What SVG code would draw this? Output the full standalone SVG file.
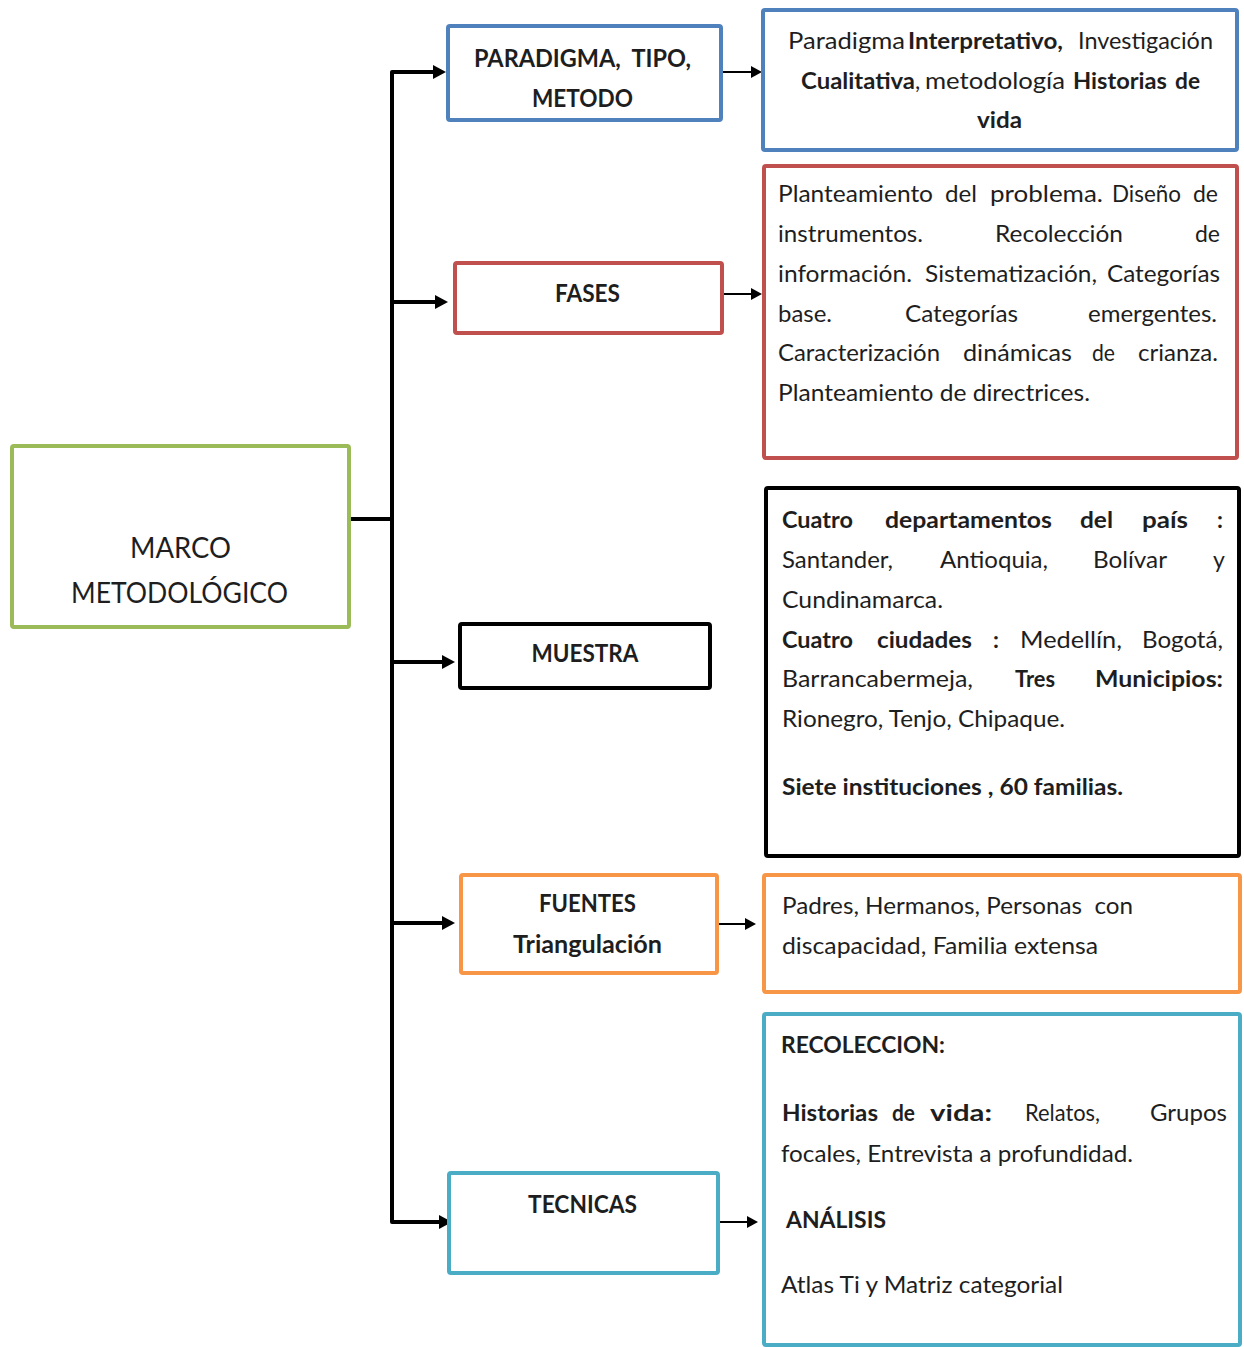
<svg xmlns="http://www.w3.org/2000/svg" width="1244" height="1347" viewBox="0 0 1244 1347">
  <style>
    .box { fill: #ffffff; stroke-width: 4; }
    .green { stroke: #9BBB59; }
    .blue { stroke: #4F81BD; }
    .red { stroke: #C0504D; }
    .black { stroke: #000000; }
    .orange { stroke: #F79646; }
    .cyan { stroke: #4BACC6; }
    .t { font-family: Lato, "Open Sans", "Liberation Sans", sans-serif; font-size: 23px; fill: #1e1e1e; }
    .b { font-weight: bold; }
    .lbl { font-family: Lato, "Open Sans", "Liberation Sans", sans-serif; font-size: 25px; font-weight: bold; fill: #1e1e1e; text-anchor: middle; }
    .main { font-family: Lato, "Open Sans", "Liberation Sans", sans-serif; font-size: 29px; fill: #1e1e1e; text-anchor: middle; }
    .thick { fill: none; stroke: #000; stroke-width: 4; stroke-linejoin: round; }
    .thin { fill: none; stroke: #000; stroke-width: 2; }
  </style>
  <defs>
    <marker id="headBig" markerUnits="userSpaceOnUse" markerWidth="14" markerHeight="16" refX="4" refY="8" orient="auto">
      <path d="M0,1 L13,8 L0,15 z" fill="#000"/>
    </marker>
    <marker id="headSmall" markerUnits="userSpaceOnUse" markerWidth="12" markerHeight="14" refX="3" refY="7" orient="auto">
      <path d="M0,1 L11,7 L0,13 z" fill="#000"/>
    </marker>
  </defs>

  <!-- connectors -->
  <g id="connectors">
    <line class="thick" x1="349" y1="519" x2="392" y2="519"/>
    <path class="thick" d="M392,72 L392,1222" stroke-linecap="round"/>
    <path class="thick" d="M392,72 L437,72" marker-end="url(#headBig)"/>
    <path class="thick" d="M392,302 L439,302" marker-end="url(#headBig)"/>
    <path class="thick" d="M392,662 L446,662" marker-end="url(#headBig)"/>
    <path class="thick" d="M392,923 L446,923" marker-end="url(#headBig)"/>
    <path class="thick" d="M392,1222 L443,1222" marker-end="url(#headBig)"/>
    <path class="thin" d="M721,72 L754,72" marker-end="url(#headSmall)"/>
    <path class="thin" d="M721,294 L754,294" marker-end="url(#headSmall)"/>
    <path class="thin" d="M717,924 L748,924" marker-end="url(#headSmall)"/>
    <path class="thin" d="M717,1222 L750,1222" marker-end="url(#headSmall)"/>
  </g>

  <!-- root node -->
  <g id="marco">
    <rect class="box green" x="12" y="446" width="337" height="181" rx="2"/>
    <text class="main" x="180.5" y="558" textLength="101" lengthAdjust="spacingAndGlyphs">MARCO</text>
    <text class="main" x="179.5" y="603" textLength="217" lengthAdjust="spacingAndGlyphs">METODOLÓGICO</text>
  </g>

  <!-- branch nodes -->
  <g id="paradigma">
    <rect class="box blue" x="448" y="26" width="273" height="94" rx="2"/>
    <text class="lbl" x="582.5" y="67" textLength="217" lengthAdjust="spacingAndGlyphs" xml:space="preserve">PARADIGMA,  TIPO,</text>
    <text class="lbl" x="582.5" y="107" textLength="101" lengthAdjust="spacingAndGlyphs">METODO</text>
  </g>
  <g id="fases">
    <rect class="box red" x="455" y="263" width="267" height="70" rx="2"/>
    <text class="lbl" x="587.5" y="302" textLength="65" lengthAdjust="spacingAndGlyphs">FASES</text>
  </g>
  <g id="muestra">
    <rect class="box black" x="460" y="624" width="250" height="64" rx="2"/>
    <text class="lbl" x="585" y="662" textLength="107" lengthAdjust="spacingAndGlyphs">MUESTRA</text>
  </g>
  <g id="fuentes">
    <rect class="box orange" x="461" y="875" width="256" height="98" rx="2"/>
    <text class="lbl" x="587.5" y="912" textLength="97" lengthAdjust="spacingAndGlyphs">FUENTES</text>
    <text class="lbl" x="587.5" y="953" textLength="149" lengthAdjust="spacingAndGlyphs">Triangulación</text>
  </g>
  <g id="tecnicas">
    <rect class="box cyan" x="449" y="1173" width="269" height="100" rx="2"/>
    <text class="lbl" x="582.5" y="1213" textLength="109" lengthAdjust="spacingAndGlyphs">TECNICAS</text>
  </g>

  <!-- detail nodes: each word placed for justified lines -->
  <g id="detalle-paradigma">
    <rect class="box blue" x="763" y="10" width="474" height="140" rx="2"/>
    <text class="t" y="49"><tspan x="788" textLength="117" lengthAdjust="spacingAndGlyphs">Paradigma</tspan><tspan class="b" x="908" textLength="155" lengthAdjust="spacingAndGlyphs">Interpretativo,</tspan><tspan x="1078" textLength="135" lengthAdjust="spacingAndGlyphs">Investigación</tspan></text>
    <text class="t" y="89"><tspan class="b" x="801" textLength="114" lengthAdjust="spacingAndGlyphs">Cualitativa</tspan><tspan>,</tspan><tspan x="925" textLength="140" lengthAdjust="spacingAndGlyphs">metodología</tspan><tspan class="b" x="1073" textLength="94" lengthAdjust="spacingAndGlyphs">Historias</tspan><tspan class="b" x="1175" textLength="25" lengthAdjust="spacingAndGlyphs">de</tspan></text>
    <text class="t b" x="977" y="128" textLength="45" lengthAdjust="spacingAndGlyphs">vida</text>
  </g>

  <g id="detalle-fases">
    <rect class="box red" x="764" y="166" width="473" height="292" rx="2"/>
    <text class="t" y="202"><tspan x="778" textLength="155" lengthAdjust="spacingAndGlyphs">Planteamiento</tspan><tspan x="945" textLength="32" lengthAdjust="spacingAndGlyphs">del</tspan><tspan x="990" textLength="113" lengthAdjust="spacingAndGlyphs">problema.</tspan><tspan x="1112" textLength="69" lengthAdjust="spacingAndGlyphs">Diseño</tspan><tspan x="1193" textLength="25" lengthAdjust="spacingAndGlyphs">de</tspan></text>
    <text class="t" y="242"><tspan x="778" textLength="145" lengthAdjust="spacingAndGlyphs">instrumentos.</tspan><tspan x="995" textLength="128" lengthAdjust="spacingAndGlyphs">Recolección</tspan><tspan x="1195" textLength="25" lengthAdjust="spacingAndGlyphs">de</tspan></text>
    <text class="t" y="282"><tspan x="778" textLength="134" lengthAdjust="spacingAndGlyphs">información.</tspan><tspan x="925" textLength="172" lengthAdjust="spacingAndGlyphs">Sistematización,</tspan><tspan x="1107" textLength="113" lengthAdjust="spacingAndGlyphs">Categorías</tspan></text>
    <text class="t" y="322"><tspan x="778" textLength="54" lengthAdjust="spacingAndGlyphs">base.</tspan><tspan x="905" textLength="113" lengthAdjust="spacingAndGlyphs">Categorías</tspan><tspan x="1088" textLength="129" lengthAdjust="spacingAndGlyphs">emergentes.</tspan></text>
    <text class="t" y="361"><tspan x="778" textLength="162" lengthAdjust="spacingAndGlyphs">Caracterización</tspan><tspan x="963" textLength="109" lengthAdjust="spacingAndGlyphs">dinámicas</tspan><tspan x="1092" textLength="23" lengthAdjust="spacingAndGlyphs">de</tspan><tspan x="1138" textLength="80" lengthAdjust="spacingAndGlyphs">crianza.</tspan></text>
    <text class="t" x="778" y="401" textLength="312" lengthAdjust="spacingAndGlyphs">Planteamiento de directrices.</text>
  </g>

  <g id="detalle-muestra">
    <rect class="box black" x="766" y="488" width="473" height="368" rx="2"/>
    <text class="t b" y="528"><tspan x="782" textLength="71" lengthAdjust="spacingAndGlyphs">Cuatro</tspan><tspan x="885" textLength="167" lengthAdjust="spacingAndGlyphs">departamentos</tspan><tspan x="1080" textLength="33" lengthAdjust="spacingAndGlyphs">del</tspan><tspan x="1142" textLength="46" lengthAdjust="spacingAndGlyphs">país</tspan><tspan x="1217">:</tspan></text>
    <text class="t" y="568"><tspan x="782" textLength="111" lengthAdjust="spacingAndGlyphs">Santander,</tspan><tspan x="940" textLength="108" lengthAdjust="spacingAndGlyphs">Antioquia,</tspan><tspan x="1093" textLength="74" lengthAdjust="spacingAndGlyphs">Bolívar</tspan><tspan x="1213">y</tspan></text>
    <text class="t" x="782" y="608" textLength="161" lengthAdjust="spacingAndGlyphs">Cundinamarca.</text>
    <text class="t" y="648"><tspan class="b" x="782" textLength="71" lengthAdjust="spacingAndGlyphs">Cuatro</tspan><tspan class="b" x="877" textLength="95" lengthAdjust="spacingAndGlyphs">ciudades</tspan><tspan class="b" x="993">:</tspan><tspan x="1020" textLength="102" lengthAdjust="spacingAndGlyphs">Medellín,</tspan><tspan x="1142" textLength="81" lengthAdjust="spacingAndGlyphs">Bogotá,</tspan></text>
    <text class="t" y="687"><tspan x="782" textLength="191" lengthAdjust="spacingAndGlyphs">Barrancabermeja,</tspan><tspan class="b" x="1015" textLength="40" lengthAdjust="spacingAndGlyphs">Tres</tspan><tspan class="b" x="1095" textLength="128" lengthAdjust="spacingAndGlyphs">Municipios:</tspan></text>
    <text class="t" x="782" y="727" textLength="283" lengthAdjust="spacingAndGlyphs">Rionegro, Tenjo, Chipaque.</text>
    <text class="t b" x="782" y="795" textLength="341" lengthAdjust="spacingAndGlyphs">Siete instituciones , 60 familias.</text>
  </g>

  <g id="detalle-fuentes">
    <rect class="box orange" x="764" y="875" width="476" height="117" rx="2"/>
    <text class="t" x="782" y="914" textLength="351" lengthAdjust="spacingAndGlyphs" xml:space="preserve">Padres, Hermanos, Personas  con</text>
    <text class="t" x="782" y="954" textLength="316" lengthAdjust="spacingAndGlyphs">discapacidad, Familia extensa</text>
  </g>

  <g id="detalle-tecnicas">
    <rect class="box cyan" x="764" y="1014" width="476" height="331" rx="2"/>
    <text class="t b" x="781" y="1053" textLength="164" lengthAdjust="spacingAndGlyphs">RECOLECCION:</text>
    <text class="t" y="1121"><tspan class="b" x="782" textLength="96" lengthAdjust="spacingAndGlyphs">Historias</tspan><tspan class="b" x="892" textLength="23" lengthAdjust="spacingAndGlyphs">de</tspan><tspan class="b" x="930" textLength="62" lengthAdjust="spacingAndGlyphs">vida:</tspan><tspan x="1025" textLength="75" lengthAdjust="spacingAndGlyphs">Relatos,</tspan><tspan x="1150" textLength="77" lengthAdjust="spacingAndGlyphs">Grupos</tspan></text>
    <text class="t" x="781" y="1162" textLength="352" lengthAdjust="spacingAndGlyphs">focales, Entrevista a profundidad.</text>
    <text class="t b" x="786" y="1228" textLength="100" lengthAdjust="spacingAndGlyphs">ANÁLISIS</text>
    <text class="t" x="781" y="1293" textLength="282" lengthAdjust="spacingAndGlyphs">Atlas Ti y Matriz categorial</text>
  </g>
</svg>
